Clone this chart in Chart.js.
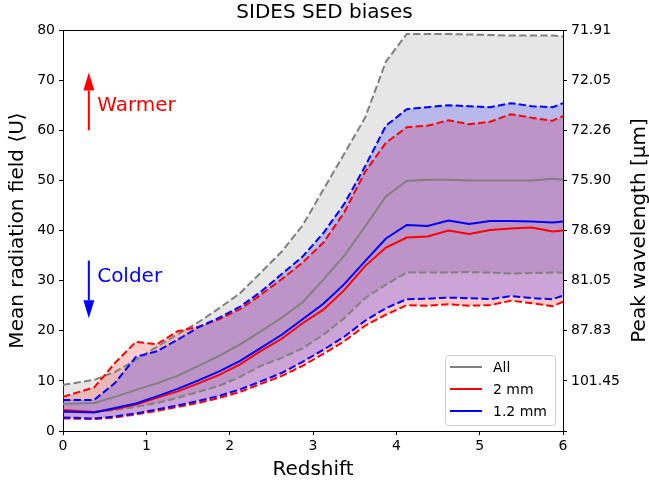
<!DOCTYPE html>
<html>
<head>
<meta charset="utf-8">
<script src="https://cdn.jsdelivr.net/npm/chart.js@4/dist/chart.umd.min.js"></script>
<style>
  body { margin: 0; background: #fff; }
  #wrap { width: 649px; height: 484px; }
</style>
</head>
<body>
<div id="wrap"><canvas id="sedChart"></canvas></div>
<script>
// Redshift sampling (bin centres plus the two edges)
const redshift = [0, 0.375, 0.625, 0.875, 1.125, 1.375, 1.625, 1.875, 2.125, 2.375, 2.625, 2.875,
    3.125, 3.375, 3.625, 3.875, 4.125, 4.375, 4.625, 4.875, 5.125, 5.375, 5.625, 5.875, 6];

// All galaxies: median and 16-84 envelope
const allMedian = [5.4, 5.6, 6.8, 8.2, 9.5, 11.0, 13.0, 15.0, 17.3, 19.9, 22.6, 25.7,
    30.2, 35.0, 40.8, 46.8, 49.9, 50.1, 50.1, 50.0, 50.0, 50.0, 50.0, 50.3, 50.1];
const allUpper = [9.2, 10.2, 11.8, 14.2, 16.8, 19.3, 21.7, 24.5, 27.5, 31.6, 35.8, 41.0,
    48.2, 55.3, 62.5, 73.7, 79.2, 79.2, 79.2, 79.1, 79.0, 78.9, 78.9, 78.9, 78.7];
const allLower = [3.8, 3.8, 4.2, 4.8, 5.6, 6.6, 7.8, 9.0, 10.8, 13.0, 14.6, 16.5,
    19.2, 22.5, 26.5, 29.2, 31.6, 31.6, 31.6, 31.7, 31.6, 31.4, 31.5, 31.6, 31.6];

// 2 mm selected
const mm2Median = [4.2, 3.8, 4.4, 5.3, 6.6, 7.9, 9.5, 11.2, 13.3, 16.0, 18.4, 21.5,
    24.2, 28.1, 32.9, 36.6, 38.6, 38.8, 40.0, 39.3, 40.1, 40.4, 40.6, 39.8, 40.0];
const mm2Upper = [6.8, 8.7, 13.6, 17.8, 17.3, 19.9, 20.8, 22.3, 24.3, 27.2, 30.3, 33.6,
    37.6, 43.6, 51.7, 57.5, 60.6, 60.9, 62.0, 61.2, 61.7, 63.2, 62.5, 61.9, 62.8];
const mm2Lower = [2.5, 2.4, 2.7, 3.3, 4.0, 4.8, 5.6, 6.6, 7.8, 9.4, 11.0, 13.0,
    15.4, 17.9, 21.0, 23.2, 25.1, 25.0, 25.3, 25.0, 25.1, 26.0, 25.5, 24.9, 25.8];

// 1.2 mm selected
const mm12Median = [3.9, 3.7, 4.6, 5.5, 6.9, 8.4, 10.1, 11.9, 14.0, 16.6, 19.2, 22.3,
    25.4, 29.3, 33.9, 38.4, 41.1, 40.9, 42.0, 41.3, 41.9, 41.9, 41.8, 41.6, 41.8];
const mm12Upper = [6.2, 6.2, 9.6, 14.8, 15.9, 18.2, 20.7, 22.6, 24.8, 27.8, 31.3, 34.8,
    39.5, 45.3, 52.8, 60.9, 64.2, 64.6, 65.0, 64.8, 64.6, 65.4, 64.8, 64.6, 65.4];
const mm12Lower = [2.7, 2.5, 2.9, 3.5, 4.3, 5.1, 6.0, 7.0, 8.3, 9.9, 11.6, 13.8,
    16.2, 18.8, 22.0, 24.5, 26.3, 26.4, 26.6, 26.5, 26.3, 26.9, 26.5, 26.3, 27.0];

// Right axis: peak wavelength labels for <U> = 0, 10, ..., 80
const peakLabels = ['', '101.45', '87.83', '81.05', '78.69', '75.90', '72.26', '72.05', '71.91'];

const legendNames = ['All', '2 mm', '1.2 mm'];
const legendColors = ['gray', 'red', 'blue'];

const FONT = 'DejaVu Sans';
Chart.defaults.font.family = FONT;
Chart.defaults.font.size = 14;
Chart.defaults.color = '#000';

const pts = arr => redshift.map((z, i) => ({ x: z, y: arr[i] }));
const DASH = [7.4, 3.2];

function medianSet(label, data, color) {
    return { label, data: pts(data), borderColor: color, borderWidth: 2, pointRadius: 0, fill: false, tension: 0 };
}
function boundSet(label, data, color, fillColor) {
    return {
        label, data: pts(data), borderColor: color, borderWidth: 2, borderDash: DASH,
        pointRadius: 0, tension: 0,
        fill: fillColor ? '+1' : false,
        backgroundColor: fillColor || 'transparent'
    };
}

// Arrows, labels, legend box, top frame line and right axis title
const extras = {
    id: 'extras',
    afterDraw(chart) {
        const ctx = chart.ctx;
        const xs = chart.scales.x, ys = chart.scales.y;
        const area = chart.chartArea;
        ctx.save();

        // top spine
        ctx.strokeStyle = '#000';
        ctx.lineWidth = 1;
        ctx.beginPath();
        ctx.moveTo(area.left, area.top + 0.5);
        ctx.lineTo(area.right, area.top + 0.5);
        ctx.stroke();

        // right axis title, reading bottom to top like the left one
        ctx.save();
        ctx.translate(chart.width - 9, (area.top + area.bottom) / 2);
        ctx.rotate(-Math.PI / 2);
        ctx.font = '20px "' + FONT + '"';
        ctx.textAlign = 'center';
        ctx.textBaseline = 'middle';
        ctx.fillStyle = '#000';
        ctx.fillText('Peak wavelength [μm]', 0, 0);
        ctx.restore();

        function arrow(xv, fromV, toV, color) {
            const x = xs.getPixelForValue(xv);
            const y0 = ys.getPixelForValue(fromV), y1 = ys.getPixelForValue(toV);
            const dir = y1 < y0 ? 1 : -1;
            const headLen = 18, headHalf = 5.5;
            ctx.strokeStyle = color;
            ctx.fillStyle = color;
            ctx.lineWidth = 2;
            ctx.beginPath();
            ctx.moveTo(x, y0);
            ctx.lineTo(x, y1 + dir * headLen);
            ctx.stroke();
            ctx.beginPath();
            ctx.moveTo(x, y1);
            ctx.lineTo(x - headHalf, y1 + dir * headLen);
            ctx.lineTo(x + headHalf, y1 + dir * headLen);
            ctx.closePath();
            ctx.fill();
        }
        arrow(0.31, 60, 71.5, 'red');
        arrow(0.31, 34, 22.5, 'blue');

        ctx.font = '20px "' + FONT + '"';
        ctx.textBaseline = 'alphabetic';
        ctx.textAlign = 'left';
        ctx.fillStyle = 'red';
        ctx.fillText('Warmer', xs.getPixelForValue(0.41), ys.getPixelForValue(63.9));
        ctx.fillStyle = 'blue';
        ctx.fillText('Colder', xs.getPixelForValue(0.41), ys.getPixelForValue(29.8));

        // legend box, lower right inside the axes
        const w = 110, h = 70;
        const bx = area.right - 8 - w, by = area.bottom - 6 - h;
        ctx.beginPath();
        ctx.roundRect(bx + 0.5, by + 0.5, w, h, 3);
        ctx.fillStyle = 'rgba(255,255,255,0.8)';
        ctx.fill();
        ctx.strokeStyle = '#cccccc';
        ctx.lineWidth = 1;
        ctx.stroke();
        ctx.font = '14px "' + FONT + '"';
        ctx.textBaseline = 'middle';
        legendNames.forEach((name, i) => {
            const cy = by + 12 + i * 22;
            ctx.strokeStyle = legendColors[i];
            ctx.lineWidth = 2;
            ctx.beginPath();
            ctx.moveTo(bx + 5, cy);
            ctx.lineTo(bx + 37, cy);
            ctx.stroke();
            ctx.fillStyle = '#000';
            ctx.fillText(name, bx + 48, cy + 1);
        });
        ctx.restore();
    }
};

const ctx = document.getElementById('sedChart').getContext('2d');
new Chart(ctx, {
    type: 'line',
    data: {
        datasets: [
            medianSet('1.2 mm', mm12Median, 'blue'),
            medianSet('2 mm', mm2Median, 'red'),
            medianSet('All', allMedian, 'gray'),
            boundSet('1.2 mm upper', mm12Upper, 'blue', 'rgba(0,0,255,0.2)'),
            boundSet('1.2 mm lower', mm12Lower, 'blue'),
            boundSet('2 mm upper', mm2Upper, 'red', 'rgba(255,0,0,0.2)'),
            boundSet('2 mm lower', mm2Lower, 'red'),
            boundSet('All upper', allUpper, 'gray', 'rgba(128,128,128,0.2)'),
            boundSet('All lower', allLower, 'gray')
        ]
    },
    options: {
        responsive: true,
        maintainAspectRatio: false,
        animation: false,
        layout: { padding: 0 },
        plugins: {
            legend: { display: false },
            tooltip: { enabled: false },
            filler: { drawTime: 'beforeDatasetsDraw' },
            title: {
                display: true,
                text: 'SIDES SED biases',
                color: '#000',
                font: { size: 20, weight: 'normal' },
                padding: { top: 1, bottom: 5 }
            }
        },
        scales: {
            x: {
                type: 'linear',
                min: 0, max: 6,
                ticks: { stepSize: 1, padding: 3, maxRotation: 0 },
                grid: { drawOnChartArea: false, color: '#000', tickLength: 4 },
                border: { color: '#000', width: 1 },
                title: { display: true, text: 'Redshift', font: { size: 20 }, padding: { top: 0, bottom: 2 } },
                afterFit: s => { s.height = 53; }
            },
            y: {
                position: 'left',
                min: 0, max: 80,
                ticks: { stepSize: 10, padding: 4 },
                grid: { drawOnChartArea: false, color: '#000', tickLength: 4 },
                border: { color: '#000', width: 1 },
                title: { display: true, text: 'Mean radiation field ⟨U⟩', font: { size: 20 }, padding: { top: 6, bottom: 0 } },
                afterFit: s => { s.width = 63; }
            },
            y2: {
                position: 'right',
                min: 0, max: 80,
                ticks: {
                    stepSize: 10, padding: 4,
                    callback: (v, i) => peakLabels[i]
                },
                grid: { drawOnChartArea: false, color: '#000', tickLength: 4 },
                border: { color: '#000', width: 1 },
                title: { display: false },
                afterFit: s => { s.width = 86; }
            }
        }
    },
    plugins: [extras]
});
</script>
</body>
</html>
